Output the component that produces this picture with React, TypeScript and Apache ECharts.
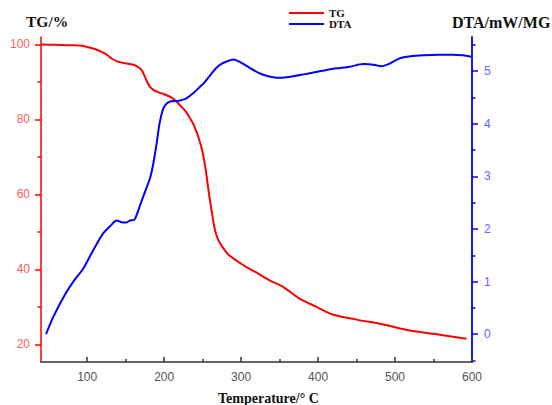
import React, { useEffect, useRef } from "react";
import * as echarts from "echarts";

const tgData: [number, number][] = [
  [40, 100], [60, 99.9], [80, 99.8], [95, 99.6], [110, 98.8], [120, 97.9], [126, 97.2], [132, 96.2],
  [142, 95.3], [155, 94.8], [164, 94.3], [171, 93.1], [177, 90.4], [181, 88.9], [186, 87.9], [192, 87.3],
  [199, 86.8], [208, 86.0], [215, 85.0], [221, 83.7], [227, 82.4], [234, 80.2], [239, 78.3], [245, 75.0],
  [250, 71.2], [254, 66.6], [257, 62], [259.5, 58.4], [263, 54], [266, 50.5], [270, 48], [275, 46.2],
  [282, 44.3], [288, 43.2], [298, 41.8], [307, 40.6], [318, 39.4], [337, 37.1], [355, 35.3], [376, 32.2],
  [398, 30], [420, 27.9], [450, 26.6], [485, 25.3], [519, 23.7], [554, 22.7], [593, 21.5],
];

const dtaData: [number, number][] = [
  [46.5, 0.0], [56, 0.33], [71, 0.75], [82, 1.0], [95, 1.25], [108, 1.6], [121, 1.92], [129.7, 2.05],
  [138.4, 2.16], [144.9, 2.125], [150.5, 2.12], [155.7, 2.16], [160.9, 2.17], [164.4, 2.27], [168.7, 2.45],
  [175, 2.7], [182, 2.98], [186, 3.25], [190, 3.6], [194, 4.0], [198, 4.25], [202, 4.36],
  [208, 4.42], [216, 4.43], [221, 4.44], [229, 4.48], [238, 4.58],
  [246.5, 4.7], [251, 4.76], [260, 4.92], [268, 5.06], [275, 5.14], [283, 5.19], [290, 5.22], [300, 5.16],
  [311, 5.06], [322, 4.97], [333, 4.91], [348, 4.87], [359, 4.88], [368, 4.9], [383, 4.94], [398, 4.98],
  [411, 5.02], [424, 5.05], [441, 5.08], [459, 5.13], [472, 5.12], [482, 5.09], [493, 5.14], [506, 5.24],
  [520, 5.28], [537, 5.3], [556, 5.31], [575, 5.31], [588, 5.3], [599, 5.27],
];

const xMajorTicks = [100, 200, 300, 400, 500, 600];
const xMinorTicks = [150, 250, 350, 450, 550];
const tgMajorTicks = [20, 40, 60, 80, 100];
const tgMinorTicks = [30, 50, 70, 90];
const dtaMajorTicks = [0, 1, 2, 3, 4, 5];
const dtaMinorTicks = [-0.5, 0.5, 1.5, 2.5, 3.5, 4.5, 5.5];

const X_MIN = 40, X_MAX = 600;
const TG_MIN = 15.3, TG_MAX = 102;
const DTA_MIN = -0.527, DTA_MAX = 5.645;

const serif = "Liberation Serif";
const sans = "Liberation Sans";

export default function App() {
  const ref = useRef<HTMLDivElement>(null);
  useEffect(() => {
    if (!ref.current) return;
    const chart = echarts.init(ref.current, null, { renderer: "svg" });
    const hidden = { show: false };
    chart.setOption({
      animation: false,
      backgroundColor: "#ffffff",
      grid: { left: 41, top: 37, right: 80, bottom: 43, containLabel: false },
      legend: {
        orient: "vertical",
        left: 289,
        top: 7.5,
        padding: 0,
        icon: "rect",
        itemWidth: 35,
        itemHeight: 2.2,
        itemGap: 0,
        textStyle: { fontFamily: serif, fontWeight: "bold", fontSize: 11, color: "#111", lineHeight: 11 },
        data: ["TG", "DTA"],
      },
      xAxis: [
        {
          type: "value",
          min: X_MIN,
          max: X_MAX,
          position: "bottom",
          axisLine: { show: true, onZero: false, lineStyle: { color: "#333", width: 1.5 } },
          axisTick: { show: true, inside: true, length: 5, customValues: xMajorTicks, lineStyle: { color: "#333", width: 1.5 } },
          axisLabel: { show: true, customValues: xMajorTicks, margin: 9, color: "#555", fontSize: 12, fontFamily: sans },
          splitLine: hidden,
        },
        {
          type: "value",
          min: X_MIN,
          max: X_MAX,
          position: "bottom",
          axisLine: { show: false, onZero: false },
          axisTick: { show: true, inside: true, length: 3, customValues: xMinorTicks, lineStyle: { color: "#333", width: 1.5 } },
          axisLabel: hidden,
          splitLine: hidden,
        },
      ],
      yAxis: [
        {
          type: "value",
          min: TG_MIN,
          max: TG_MAX,
          position: "left",
          axisLine: { show: true, onZero: false, lineStyle: { color: "#ff0000", width: 1.5 } },
          axisTick: { show: true, inside: false, length: 6, customValues: tgMajorTicks, lineStyle: { color: "#ff0000", width: 1.5 } },
          axisLabel: { show: true, customValues: tgMajorTicks, margin: 11, color: "#ff5c5c", fontSize: 12, fontFamily: sans },
          splitLine: hidden,
        },
        {
          type: "value",
          min: DTA_MIN,
          max: DTA_MAX,
          position: "right",
          axisLine: { show: true, onZero: false, lineStyle: { color: "#0000ff", width: 1.8 } },
          axisTick: { show: true, inside: false, length: 6, customValues: dtaMajorTicks, lineStyle: { color: "#0000ff", width: 1.5 } },
          axisLabel: { show: true, customValues: dtaMajorTicks, margin: 12, color: "#6464ff", fontSize: 12, fontFamily: sans },
          splitLine: hidden,
        },
        {
          type: "value",
          min: TG_MIN,
          max: TG_MAX,
          position: "left",
          axisLine: { show: false, onZero: false },
          axisTick: { show: true, inside: false, length: 3.5, customValues: tgMinorTicks, lineStyle: { color: "#ff0000", width: 1.5 } },
          axisLabel: hidden,
          splitLine: hidden,
        },
        {
          type: "value",
          min: DTA_MIN,
          max: DTA_MAX,
          position: "right",
          axisLine: { show: false, onZero: false },
          axisTick: { show: true, inside: false, length: 3.5, customValues: dtaMinorTicks, lineStyle: { color: "#0000ff", width: 1.5 } },
          axisLabel: hidden,
          splitLine: hidden,
        },
      ],
      series: [
        {
          name: "TG",
          type: "line",
          xAxisIndex: 0,
          yAxisIndex: 0,
          data: tgData,
          symbol: "none",
          smooth: 0.3,
          lineStyle: { color: "#ff0000", width: 2 },
          itemStyle: { color: "#ff0000" },
        },
        {
          name: "DTA",
          type: "line",
          xAxisIndex: 0,
          yAxisIndex: 1,
          data: dtaData,
          symbol: "none",
          smooth: 0.3,
          lineStyle: { color: "#0000ff", width: 2 },
          itemStyle: { color: "#0000ff" },
        },
      ],
      graphic: [
        {
          type: "text",
          left: 26,
          top: 13,
          style: { text: "TG/%", fontFamily: serif, fontWeight: "bold", fontSize: 15.5, fill: "#111" },
        },
        {
          type: "text",
          left: 452,
          top: 14,
          style: { text: "DTA/mW/MG", fontFamily: serif, fontWeight: "bold", fontSize: 16, fill: "#111" },
        },
        {
          type: "text",
          left: 218,
          top: 391,
          style: { text: "Temperature/° C", fontFamily: serif, fontWeight: "bold", fontSize: 14, fill: "#111" },
        },
      ],
    });
    return () => chart.dispose();
  }, []);
  return (
    <div
      ref={ref}
      style={{ position: "fixed", left: 0, top: 0, width: 552, height: 405, background: "#fff" }}
    />
  );
}
